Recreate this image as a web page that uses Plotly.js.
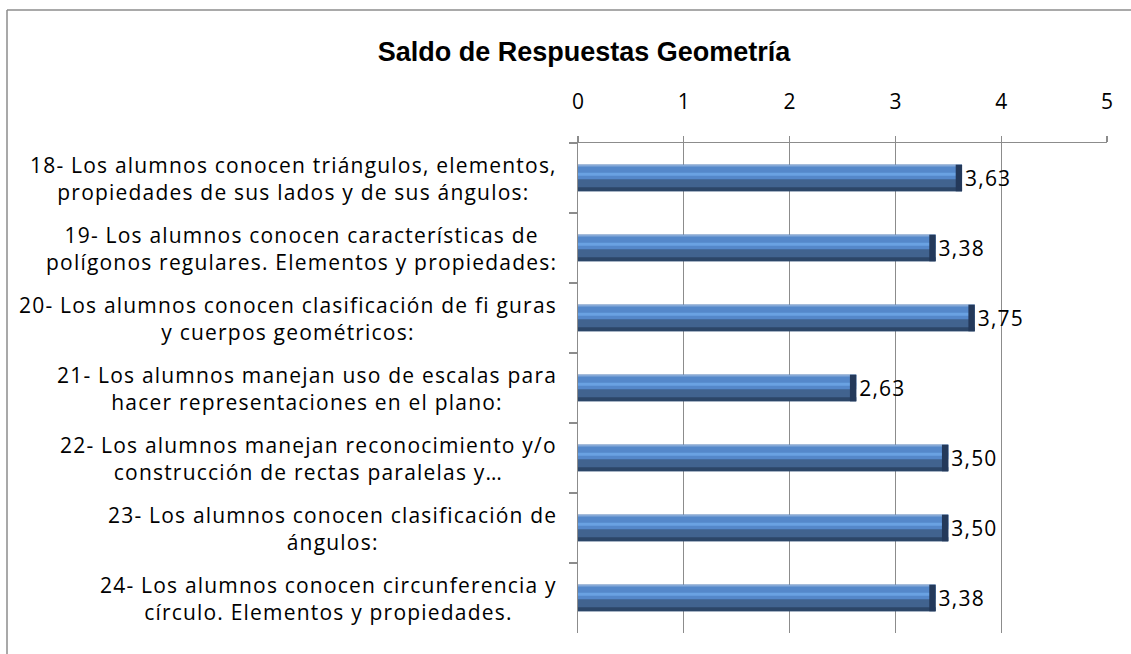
<!DOCTYPE html>
<html>
<head>
<meta charset="utf-8">
<script src="https://cdn.plot.ly/plotly-3.0.1.min.js"></script>
<style>
  html, body { margin: 0; padding: 0; background: #ffffff; }
  #chart { width: 1131px; height: 654px; }
  svg text.annotation-text, svg text.bartext { letter-spacing: 1.2px; }
</style>
</head>
<body>
<div id="chart"></div>
<script>
const chartTitle = "Saldo de Respuestas Geometría";
const categories = [
  "18- Los alumnos conocen triángulos, elementos,<br>propiedades de sus lados y de sus ángulos:",
  "19- Los alumnos conocen características de<br>polígonos regulares. Elementos y propiedades:",
  "20- Los alumnos conocen clasificación de fi guras<br>y cuerpos geométricos:",
  "21- Los alumnos manejan uso de escalas para<br>hacer representaciones en el plano:",
  "22- Los alumnos manejan reconocimiento y/o<br>construcción de rectas paralelas y…",
  "23- Los alumnos conocen clasificación de<br>ángulos:",
  "24- Los alumnos conocen circunferencia y<br>círculo. Elementos y propiedades."
];
const values = [3.63, 3.38, 3.75, 2.63, 3.50, 3.50, 3.38];
const xTickValues = [0, 1, 2, 3, 4, 5];

const FONT = "'Open Sans', Lato, sans-serif";
const BW = 0.38;
const CAP = 0.06;

function layer(width, offset, color) {
  return {
    type: "bar", orientation: "h", x: values, y: categories,
    width: width, offset: offset,
    marker: { color: color, line: { width: 0 } },
    hoverinfo: "skip", showlegend: false
  };
}

const base = Object.assign(layer(BW, -BW / 2, "#41638f"), {
  text: values, texttemplate: "%{x:.2f}", textposition: "outside",
  constraintext: "none", cliponaxis: false,
  textfont: { family: FONT, size: 21, color: "#000000" }
});
const topBody = layer(BW * 0.55, -BW / 2, "#5588ca");
const topEdge = layer(BW * 0.07, -BW / 2, "#86a9d8");
const highlight = layer(BW * 0.12, -BW / 2 + BW * 0.3, "#6aa2e2");
const bottomEdge = layer(BW * 0.15, BW / 2 - BW * 0.15, "#2c4668");
const endCap = {
  type: "bar", orientation: "h",
  x: values.map(() => CAP), base: values.map(v => v - CAP), y: categories,
  width: BW, offset: -BW / 2,
  marker: { color: "#24395a", line: { width: 0 } },
  hoverinfo: "skip", showlegend: false
};

const annotations = categories.map(c => ({
  xref: "paper", yref: "y", x: -0.036, y: c,
  xanchor: "right", yanchor: "middle", align: "center",
  text: c, showarrow: false,
  font: { family: FONT, size: 21, color: "#000000" }
}));

const layout = {
  width: 1131, height: 654,
  margin: { l: 578, r: 24, t: 143, b: 21, pad: 0 },
  paper_bgcolor: "#ffffff", plot_bgcolor: "#ffffff",
  barmode: "overlay",
  separators: ",.",
  title: {
    text: "<b>" + chartTitle + "</b>",
    font: { family: "'Liberation Sans', Arial, sans-serif", size: 27, color: "#000000" },
    xref: "container", yref: "container", x: 0.5164, y: 1 - 52 / 654,
    xanchor: "center", yanchor: "middle"
  },
  xaxis: {
    side: "top", range: [0, 5], tickvals: xTickValues,
    showgrid: true, gridcolor: "#8c8c8c", gridwidth: 1.3,
    zeroline: false, showline: true, linecolor: "#8c8c8c", linewidth: 1.3,
    ticks: "outside", ticklen: 6, tickcolor: "#8c8c8c", tickwidth: 1.3,
    ticklabelstandoff: 18,
    tickfont: { family: FONT, size: 21, color: "#000000" },
    fixedrange: true
  },
  yaxis: {
    type: "category", autorange: "reversed",
    showticklabels: false, tickson: "boundaries",
    ticks: "outside", ticklen: 8, tickcolor: "#8c8c8c", tickwidth: 1.3,
    showgrid: false, zeroline: false,
    showline: true, linecolor: "#8c8c8c", linewidth: 1.3,
    fixedrange: true
  },
  annotations: annotations,
  shapes: [
    { type: "line", xref: "paper", yref: "paper",
      x0: (7 - 578) / 529, x1: (1140 - 578) / 529,
      y0: (633 - 10) / 490, y1: (633 - 10) / 490,
      line: { color: "#8c8c8c", width: 1.5 } },
    { type: "line", xref: "paper", yref: "paper",
      x0: (7 - 578) / 529, x1: (7 - 578) / 529,
      y0: (633 - 10) / 490, y1: (633 - 670) / 490,
      line: { color: "#8c8c8c", width: 1.5 } }
  ],
  showlegend: false
};

Plotly.newPlot("chart", [base, topBody, topEdge, highlight, bottomEdge, endCap], layout,
  { displayModeBar: false, staticPlot: true });
</script>
</body>
</html>
